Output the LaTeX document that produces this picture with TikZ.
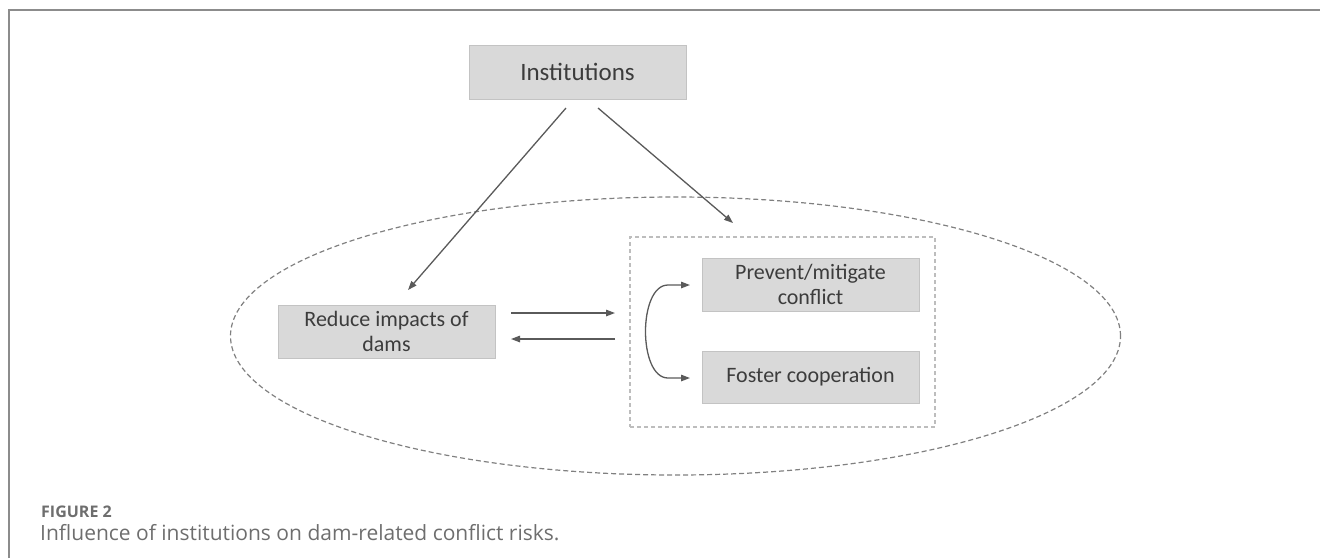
\documentclass[tikz,border=0pt]{standalone}
\usepackage{fontspec}
\setmainfont{Carlito}
\newfontfamily\capfont{Open Sans}
\usetikzlibrary{arrows.meta,shapes.geometric}
\definecolor{boxfill}{HTML}{D9D9D9}
\definecolor{boxline}{HTML}{C3C3C3}
\definecolor{txt}{HTML}{3C3C3C}
\definecolor{arr}{HTML}{5A5A5A}
\definecolor{ell}{HTML}{808080}
\definecolor{rectd}{HTML}{BDBDBD}
\definecolor{frame}{HTML}{8C8C8C}
\definecolor{captxt}{HTML}{6E6E6E}
\begin{document}
\begin{tikzpicture}[x=1pt,y=-1pt,
  gbox/.style={draw=boxline,fill=boxfill,line width=1pt,inner sep=0pt,
    minimum width=217pt,minimum height=53pt,text=txt,align=center,
    font=\fontsize{22}{25}\selectfont},
  conn/.style={draw=arr,line width=1.3pt,-{Triangle[length=9pt,width=6.5pt]}},
  dconn/.style={draw=arr,line width=1.3pt,{Triangle[length=9pt,width=6.5pt]}-{Triangle[length=9pt,width=6.5pt]}}]
\useasboundingbox (0,0) rectangle (1320,558);
% frame
\draw[frame,line width=1.6pt] (9,558) -- (9,10) -- (1320,10);
% ellipse
\node[draw=ell,dashed,dash pattern=on 5pt off 3pt,line width=1.2pt,ellipse,
  minimum width=890pt,minimum height=278pt,inner sep=0pt] (ell) at (675.5,336) {};
% dashed rectangle
\node[draw=rectd,dash pattern=on 4pt off 3pt,line width=1.1pt,inner sep=0pt,
  minimum width=305pt,minimum height=190pt] (grp) at (782.5,332) {};
% boxes
\node[gbox,minimum height=54pt,font=\fontsize{25}{28}\selectfont] (inst) at (577.5,72) {Institutions};
\node[gbox] (red) at (386.5,331.5) {Reduce impacts of\\dams};
\node[gbox] (prev) at (810.5,284.5) {Prevent/mitigate\\conflict};
\node[gbox,minimum height=52pt] (fost) at (810.5,377) {Foster cooperation};
% connector ends
\coordinate (s1) at (566,108);
\coordinate (e1) at (408,290);
\coordinate (s2) at (598,108);
\coordinate (e2) at (733,223);
\coordinate (h1a) at (511,313);
\coordinate (h1b) at (615,313);
\coordinate (h2a) at (615,339);
\coordinate (h2b) at (511,339);
\coordinate (c1) at (690,285);
\coordinate (c2) at (690,378);
\draw[conn] (s1) -- (e1);
\draw[conn] (s2) -- (e2);
\draw[conn] (h1a) -- (h1b);
\draw[conn] (h2a) -- (h2b);
\draw[dconn] (c1) -- (668,285) .. controls (638,285) and (638,378) .. (668,378) -- (c2);
% caption
\node[anchor=base west,inner sep=0pt,text=captxt,font=\capfont\bfseries\fontsize{16}{18}\selectfont] (fig) at (41,517) {FIGURE 2};
\node[anchor=base west,inner sep=0pt,text=captxt,font=\capfont\fontsize{21}{24}\selectfont] (cap) at (40,540) {Influence of institutions on dam-related conflict risks.};
\end{tikzpicture}
\end{document}
